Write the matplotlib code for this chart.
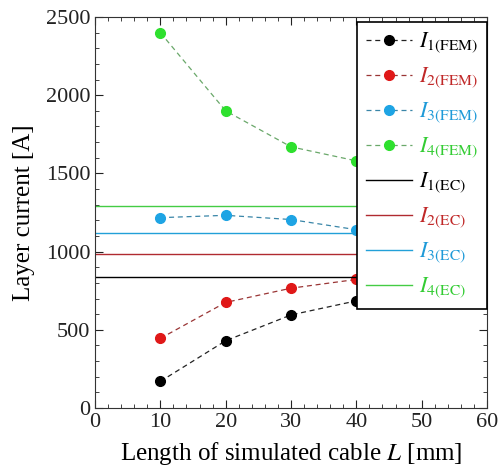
import numpy as np
import matplotlib
matplotlib.use('Agg')
import matplotlib.pyplot as plt
from matplotlib.ticker import MultipleLocator

plt.rcParams['font.family'] = ['Liberation Serif', 'DejaVu Serif']
plt.rcParams['mathtext.fontset'] = 'stix'

# simulated cable length [mm]
length = [10, 20, 30, 40]

# FEM layer currents [A]
i1_fem = [170, 430, 595, 685]
i2_fem = [445, 675, 766, 822]
i3_fem = [1217, 1232, 1205, 1140]
i4_fem = [2400, 1900, 1670, 1580]

# equivalent-circuit layer currents [A]
i1_ec = 840
i2_ec = 985
i3_ec = 1120
i4_ec = 1290

labels_fem = [r'$I_{\mathrm{1(FEM)}}$', r'$I_{\mathrm{2(FEM)}}$',
              r'$I_{\mathrm{3(FEM)}}$', r'$I_{\mathrm{4(FEM)}}$']
labels_ec = [r'$I_{\mathrm{1(EC)}}$', r'$I_{\mathrm{2(EC)}}$',
             r'$I_{\mathrm{3(EC)}}$', r'$I_{\mathrm{4(EC)}}$']

marker_colors = ['#000000', '#e01818', '#1ea4e4', '#2ee02e']
dash_colors = ['#222222', '#9a3535', '#3a86a8', '#6aa86a']
ec_colors = ['#000000', '#b02a30', '#22a0d8', '#44cc44']
text_colors = ['#000000', '#c02828', '#1e9ad8', '#33cc33']

fig = plt.figure(figsize=(5.02, 4.74), dpi=100)
ax = fig.add_axes([95 / 502, 66 / 474, 392 / 502, 391 / 474])

handles = []
for y, mc, dc, lab in zip([i1_fem, i2_fem, i3_fem, i4_fem], marker_colors, dash_colors, labels_fem):
    h, = ax.plot(length, y, linestyle=(0, (4, 3)), color=dc, linewidth=0.9,
                 marker='o', markersize=7, markerfacecolor=mc, markeredgecolor=mc, label=lab)
    handles.append(h)
for v, c, lab in zip([i1_ec, i2_ec, i3_ec, i4_ec], ec_colors, labels_ec):
    h = ax.axhline(v, color=c, linewidth=1.0, label=lab)
    handles.append(h)

ax.set_xlim(0, 60)
ax.set_ylim(0, 2500)
ax.xaxis.set_major_locator(MultipleLocator(10))
ax.xaxis.set_minor_locator(MultipleLocator(2))
ax.yaxis.set_major_locator(MultipleLocator(500))
ax.yaxis.set_minor_locator(MultipleLocator(100))
ax.tick_params(which='both', direction='in', top=True, right=True, labelsize=16, colors='#222222')
ax.tick_params(which='major', length=6)
ax.tick_params(which='minor', length=3)
for s in ax.spines.values():
    s.set_color('#333333')

ax.set_xlabel(r'Length of simulated cable $L$ [mm]', fontsize=18, labelpad=6)
ax.set_ylabel('Layer current [A]', fontsize=18, labelpad=8)

leg = ax.legend(handles=handles, loc='upper right', bbox_to_anchor=(1.0, 0.988),
                borderaxespad=0, fancybox=False, framealpha=1, edgecolor='black',
                fontsize=16, handlelength=2.1, handletextpad=0.3, labelspacing=0.47,
                borderpad=0.4)
leg.get_frame().set_linewidth(1.2)
for t, c in zip(leg.get_texts(), text_colors + text_colors):
    t.set_color(c)

fig.savefig('out.png', dpi=100)
